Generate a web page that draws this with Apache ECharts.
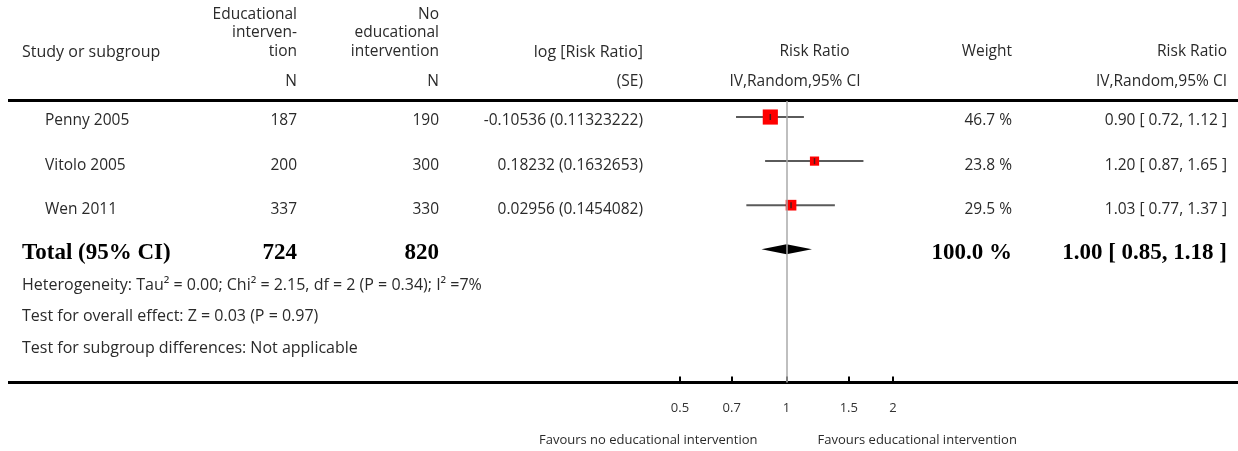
<!DOCTYPE html>
<html><head><meta charset="utf-8">
<script src="https://cdn.jsdelivr.net/npm/echarts@6/dist/echarts.min.js"></script>
<style>html,body{margin:0;padding:0;background:#fff}#c{width:1238px;height:451px}</style>
</head><body><div id="c"></div>
<script>
// ---- data ----
const studies = ['Penny 2005', 'Vitolo 2005', 'Wen 2011'];
const nInt = [187, 200, 337];
const nCtl = [190, 300, 330];
const logRRText = ['-0.10536 (0.11323222)', '0.18232 (0.1632653)', '0.02956 (0.1454082)'];
const rr = [0.90, 1.20, 1.03];
const rrLo = [0.72, 0.87, 0.77];
const rrHi = [1.12, 1.65, 1.37];
const weight = [46.7, 23.8, 29.5];
const totalLabel = 'Total (95% CI)';
const totalN = [724, 820];
const totalRR = [1.00, 0.85, 1.18]; // est, lo, hi
const totalWeight = 100.0;
const tickValues = [0.5, 0.7, 1, 1.5, 2];
const footnotes = [
  'Heterogeneity: Tau\u00B2 = 0.00; Chi\u00B2 = 2.15, df = 2 (P = 0.34); I\u00B2 =7%',
  'Test for overall effect: Z = 0.03 (P = 0.97)',
  'Test for subgroup differences: Not applicable'
];
const favours = ['Favours no educational intervention', 'Favours educational intervention'];

// ---- layout ----
const SANS = '"Open Sans", Lato, sans-serif';
const SERIF = '"Liberation Serif", "DejaVu Serif", serif';
const TXT = '#2a2a2a';
const rowIdx = studies.map((_, i) => i);
const totalIdx = studies.length;

const fmt2 = v => v.toFixed(2);
const ciText = (e, l, h) => fmt2(e) + ' [ ' + fmt2(l) + ', ' + fmt2(h) + ' ]';

const chart = echarts.init(document.getElementById('c'));

function txt(x, y, s, align, opt) {
  return {
    type: 'text', x: x, y: y, silent: true,
    style: Object.assign({
      text: s, fill: TXT, font: '15.5px ' + SANS, align: align || 'left', verticalAlign: 'middle'
    }, opt || {})
  };
}

chart.setOption({
  animation: false,
  grid: { left: 680, width: 213, top: 101, height: 281.5, containLabel: false },
  xAxis: {
    type: 'log', logBase: 10, min: 0.5, max: 2,
    axisLine: { show: false, onZero: false },
    axisTick: { show: true, inside: true, length: 6, customValues: tickValues, lineStyle: { color: '#000', width: 2 } },
    axisLabel: { show: true, customValues: tickValues, margin: 19, color: '#333', fontSize: 13, fontFamily: SANS,
      formatter: v => String(v) },
    splitLine: { show: false }, minorTick: { show: false }
  },
  yAxis: {
    type: 'value', inverse: true, min: -0.3636, max: 6.0227, show: false
  },
  series: [
    {
      type: 'custom', name: 'ci', z: 2,
      data: rowIdx.map(i => [rrLo[i], rrHi[i], i]),
      encode: { x: [0, 1], y: 2 },
      renderItem: (params, api) => {
        const y = api.value(2);
        const p1 = api.coord([api.value(0), y]);
        const p2 = api.coord([api.value(1), y]);
        return { type: 'line', shape: { x1: p1[0], y1: p1[1], x2: p2[0], y2: p2[1] },
          style: { stroke: '#5a5a5a', lineWidth: 2 } };
      }
    },
    {
      type: 'scatter', name: 'rr', z: 3, symbol: 'rect',
      data: rowIdx.map(i => [rr[i], i, weight[i]]),
      symbolSize: v => 3 + v[2] * 0.26,
      itemStyle: { color: '#ff0000', opacity: 1 },
      markLine: {
        silent: true, symbol: 'none', label: { show: false },
        lineStyle: { color: '#aaa', width: 1.5, type: 'solid' },
        data: [{ xAxis: 1 }]
      }
    },
    {
      type: 'scatter', name: 'est', z: 4, symbol: 'rect', symbolSize: [1.5, 6],
      data: rowIdx.map(i => [rr[i], i]),
      itemStyle: { color: '#222' }
    },
    {
      type: 'custom', name: 'diamond', z: 3,
      data: [[totalRR[0], totalRR[1], totalRR[2], totalIdx]],
      encode: { x: [0, 1, 2], y: 3 },
      renderItem: (params, api) => {
        const yv = api.value(3);
        const c = api.coord([api.value(0), yv]);
        const l = api.coord([api.value(1), yv]);
        const r = api.coord([api.value(2), yv]);
        return { type: 'polygon', shape: { points: [[l[0], c[1]], [c[0], c[1] - 5], [r[0], c[1]], [c[0], c[1] + 5]] },
          style: { fill: '#000' } };
      }
    }
  ]
});

// ---- table text, aligned to the rows of the y scale ----
const rowY = i => chart.convertToPixel({ yAxisIndex: 0 }, i) + 4;
const g = [];
// rules
g.push({ type: 'rect', silent: true, shape: { x: 8, y: 99, width: 1230, height: 3 }, style: { fill: '#000' } });
g.push({ type: 'rect', silent: true, shape: { x: 8, y: 381, width: 1230, height: 3 }, style: { fill: '#000' } });
// header
g.push(txt(22, 52, 'Study or subgroup', 'left', { font: '16px ' + SANS }));
g.push(txt(297, 15, 'Educational', 'right'));
g.push(txt(297, 33, 'interven-', 'right'));
g.push(txt(297, 52, 'tion', 'right'));
g.push(txt(297, 82, 'N', 'right'));
g.push(txt(439, 15, 'No', 'right'));
g.push(txt(439, 33, 'educational', 'right'));
g.push(txt(439, 52, 'intervention', 'right'));
g.push(txt(439, 82, 'N', 'right'));
g.push(txt(643, 52, 'log [Risk Ratio]', 'right', { font: '16px ' + SANS }));
g.push(txt(643, 82, '(SE)', 'right'));
g.push(txt(814.5, 52, 'Risk Ratio', 'center'));
g.push(txt(795, 82, 'IV,Random,95% CI', 'center'));
g.push(txt(1012, 52, 'Weight', 'right'));
g.push(txt(1227, 52, 'Risk Ratio', 'right'));
g.push(txt(1227, 82, 'IV,Random,95% CI', 'right'));
// rows
rowIdx.forEach(i => {
  const y = rowY(i);
  g.push(txt(45, y, studies[i]));
  g.push(txt(297, y, String(nInt[i]), 'right'));
  g.push(txt(439, y, String(nCtl[i]), 'right'));
  g.push(txt(643, y, logRRText[i], 'right'));
  g.push(txt(1012, y, weight[i].toFixed(1) + ' %', 'right'));
  g.push(txt(1227, y, ciText(rr[i], rrLo[i], rrHi[i]), 'right'));
});
// total
const ty = rowY(totalIdx);
const bold = { font: 'bold 23px ' + SERIF, fill: '#000' };
g.push(txt(22, ty, totalLabel, 'left', bold));
g.push(txt(297, ty, String(totalN[0]), 'right', bold));
g.push(txt(439, ty, String(totalN[1]), 'right', bold));
g.push(txt(1012, ty, totalWeight.toFixed(1) + ' %', 'right', bold));
g.push(txt(1227, ty, ciText(totalRR[0], totalRR[1], totalRR[2]), 'right', bold));
// footnotes
footnotes.forEach((s, k) => g.push(txt(22, 285 + k * 31.5, s, 'left', { font: '16px ' + SANS })));
// favours labels around RR = 1
const x1 = chart.convertToPixel({ xAxisIndex: 0 }, 1);
g.push(txt(x1 - 29, 440, favours[0], 'right', { font: '13px ' + SANS }));
g.push(txt(x1 + 31, 440, favours[1], 'left', { font: '13px ' + SANS }));

chart.setOption({ graphic: { elements: g } });
</script></body></html>
